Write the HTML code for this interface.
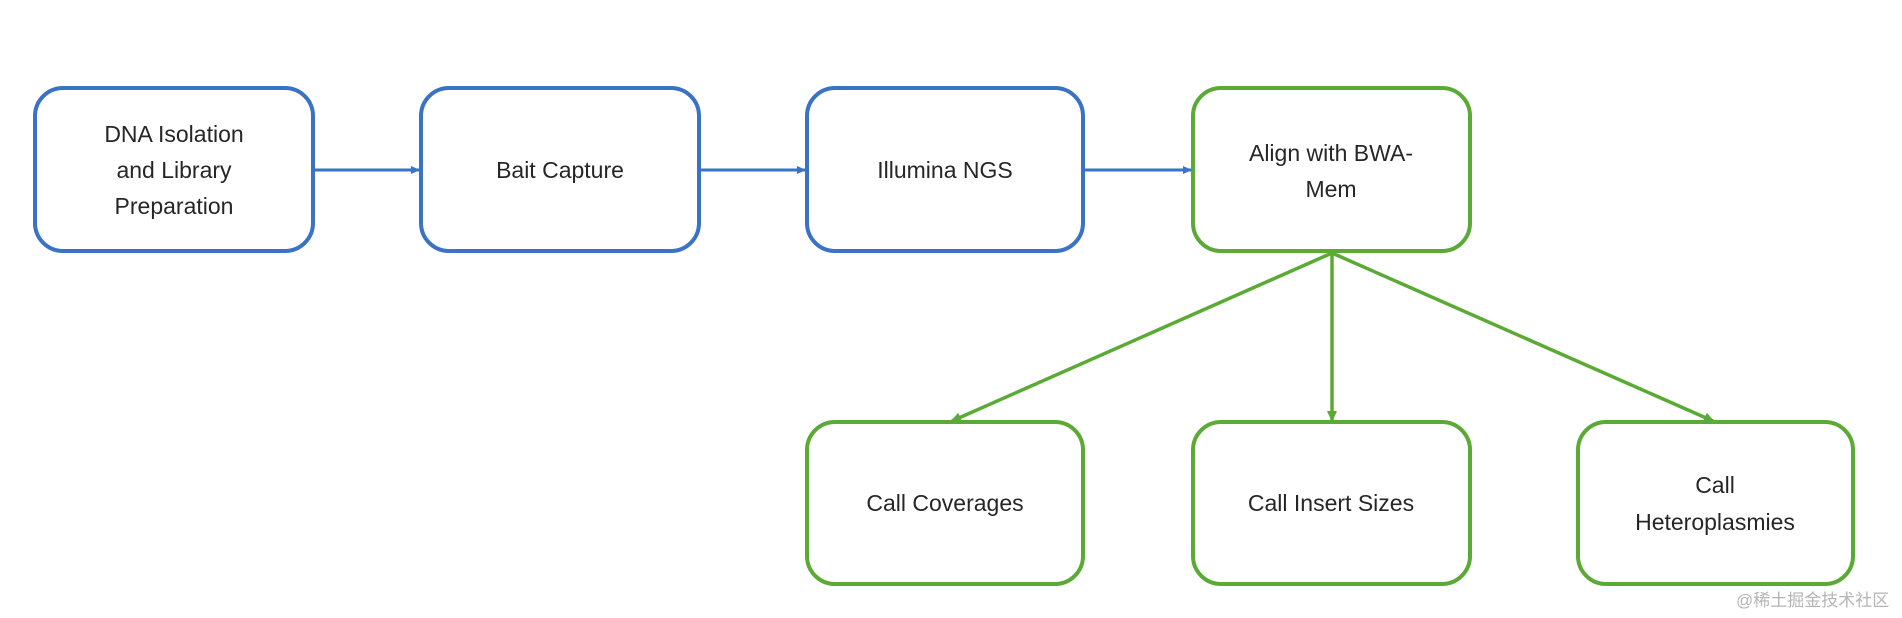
<!DOCTYPE html>
<html><head><meta charset="utf-8"><style>
html,body{margin:0;padding:0;background:#fff;width:1902px;height:618px;overflow:hidden}
svg{display:block}
text{font-family:"Liberation Sans","Noto Sans CJK SC",sans-serif;font-size:23px;fill:#262626}
</style></head><body>
<svg width="1902" height="618" viewBox="0 0 1902 618">
<defs>
<marker id="ab" markerWidth="10" markerHeight="10" refX="8" refY="5" orient="auto" markerUnits="userSpaceOnUse"><path d="M0,1 L9,5 L0,9 z" fill="#3A72C6"/></marker>
<marker id="ag" markerWidth="12" markerHeight="12" refX="9" refY="6" orient="auto" markerUnits="userSpaceOnUse"><path d="M0,1 L11,6 L0,11 z" fill="#5BAA36"/></marker>
</defs>
<g fill="#fff" stroke-width="4">
<rect x="35" y="88" width="278" height="163" rx="28" stroke="#3A72C6"/>
<rect x="421" y="88" width="278" height="163" rx="28" stroke="#3A72C6"/>
<rect x="807" y="88" width="276" height="163" rx="28" stroke="#3A72C6"/>
<rect x="1193" y="88" width="277" height="163" rx="28" stroke="#5BAA36"/>
<rect x="807" y="422" width="276" height="162" rx="28" stroke="#5BAA36"/>
<rect x="1193" y="422" width="277" height="162" rx="28" stroke="#5BAA36"/>
<rect x="1578" y="422" width="275" height="162" rx="28" stroke="#5BAA36"/>
</g>
<g stroke="#3A72C6" stroke-width="3">
<line x1="313" y1="170" x2="419" y2="170" marker-end="url(#ab)"/>
<line x1="699" y1="170" x2="805" y2="170" marker-end="url(#ab)"/>
<line x1="1083" y1="170" x2="1191" y2="170" marker-end="url(#ab)"/>
</g>
<g stroke="#5BAA36" stroke-width="3.5">
<line x1="1332" y1="253" x2="952" y2="421" marker-end="url(#ag)"/>
<line x1="1332" y1="253" x2="1332" y2="420" marker-end="url(#ag)"/>
<line x1="1332" y1="253" x2="1713" y2="421" marker-end="url(#ag)"/>
</g>
<g text-anchor="middle">
<text x="174" y="142">DNA Isolation</text>
<text x="174" y="178">and Library</text>
<text x="174" y="214">Preparation</text>
<text x="560" y="178">Bait Capture</text>
<text x="945" y="178">Illumina NGS</text>
<text x="1331" y="161">Align with BWA-</text>
<text x="1331" y="197">Mem</text>
<text x="945" y="511">Call Coverages</text>
<text x="1331" y="511">Call Insert Sizes</text>
<text x="1715" y="493">Call</text>
<text x="1715" y="530">Heteroplasmies</text>
</g>
<text x="1736" y="606" style="font-size:17px;fill:#b5b5b5">@稀土掘金技术社区</text>
</svg>
</body></html>
